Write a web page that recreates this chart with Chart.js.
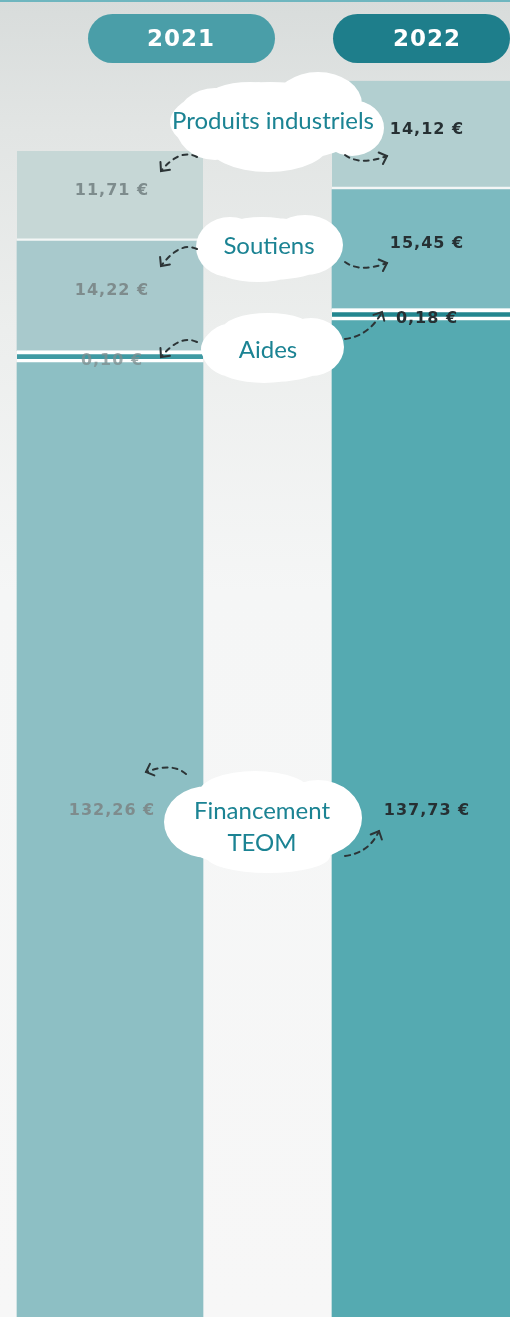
<!DOCTYPE html>
<html lang="fr">
<head>
<meta charset="utf-8">
<title>Financement 2021 / 2022</title>
<script src="https://cdn.jsdelivr.net/npm/chart.js@4/dist/chart.umd.min.js"></script>
<style>
  html, body { margin: 0; padding: 0; background: #f6f7f7; overflow: hidden; }
  #wrap { position: relative; width: 510px; height: 1317px; }
  canvas { display: block; }
</style>
</head>
<body>
<div id="wrap"><canvas id="chart" width="510" height="1317"></canvas></div>
<script>
// Years shown as columns
const years = ['2021', '2022'];
// Amounts in euros, one value per year, stacked from the bottom up
const teom = [132.26, 137.73];
const aides = [0.10, 0.18];
const soutiens = [14.22, 15.45];
const produits = [11.71, 14.12];
// Names written in the bubbles
const seriesNames = ['Financement TEOM', 'Aides', 'Soutiens', 'Produits industriels'];

const fmt = v => v.toFixed(2).replace('.', ',') + ' €';
const toPoints = arr => arr.map((v, i) => ({ x: i, y: v }));

const TEAL_TEXT = '#1b8393';

// Light paper tone behind everything
const paper = {
  id: 'paper',
  beforeDraw(chart) {
    const { ctx, width, height } = chart;
    const g = ctx.createLinearGradient(0, 0, 0, height);
    g.addColorStop(0, '#d8dcdb');
    g.addColorStop(0.1, '#e2e5e4');
    g.addColorStop(0.25, '#eceeed');
    g.addColorStop(0.45, '#f5f6f6');
    g.addColorStop(1, '#f7f7f7');
    ctx.save();
    ctx.fillStyle = g;
    ctx.fillRect(0, 0, width, height);
    ctx.fillStyle = '#6fb6bf';
    ctx.fillRect(0, 0, width, 2);
    ctx.restore();
  }
};

// Bubble shapes: union of ellipses [cx, cy, rx, ry]
const bubbles = [
  { text: [seriesNames[3]], tx: 273, ty: 121, shapes: [
      [270, 122, 100, 40], [215, 124, 40, 36], [318, 104, 44, 32], [352, 128, 32, 28],
      [268, 142, 62, 30], [250, 100, 45, 18] ] },
  { text: [seriesNames[2]], tx: 269, ty: 246, shapes: [
      [269, 249, 72, 31], [230, 247, 34, 30], [305, 245, 38, 30], [262, 235, 45, 18],
      [258, 266, 45, 16] ] },
  { text: [seriesNames[1]], tx: 268, ty: 350, shapes: [
      [272, 349, 71, 33], [234, 350, 32, 27], [311, 347, 33, 29], [268, 330, 46, 17],
      [264, 368, 46, 15] ] },
  { text: ['Financement', 'TEOM'], tx: 262, ty: 811, lh: 32, shapes: [
      [263, 823, 97, 45], [208, 822, 44, 36], [318, 818, 44, 38], [255, 793, 56, 22],
      [268, 856, 62, 17] ] }
];

// Dashed pointers from each bubble towards its segments: [start, control, tip]
const pointers = [
  [[197, 157], [180, 148], [161, 171]],
  [[197, 249], [180, 241], [161, 266]],
  [[197, 342], [180, 334], [161, 357]],
  [[186, 774], [172, 762], [146, 772]],
  [[345, 155], [360, 166], [387, 156]],
  [[345, 262], [360, 273], [387, 263]],
  [[345, 339], [369, 336], [382, 312]],
  [[345, 856], [369, 853], [379, 831]]
];

// Header pills above each column
const pills = [
  { x: 88, w: 187, tx: 181, color: '#4a9ea8' },
  { x: 333, w: 177, tx: 427, color: '#1e7e8b' }
];

function roundRect(ctx, x, y, w, h, r) {
  ctx.beginPath();
  ctx.moveTo(x + r, y);
  ctx.lineTo(x + w - r, y);
  ctx.arc(x + w - r, y + r, r, -Math.PI / 2, Math.PI / 2);
  ctx.lineTo(x + r, y + h);
  ctx.arc(x + r, y + r, r, Math.PI / 2, Math.PI * 1.5);
  ctx.closePath();
}

function drawPointer(ctx, p) {
  const [s, c, t] = p;
  ctx.save();
  ctx.strokeStyle = '#2c3436';
  ctx.lineWidth = 2;
  ctx.lineCap = 'round';
  ctx.setLineDash([5, 5]);
  ctx.beginPath();
  ctx.moveTo(s[0], s[1]);
  ctx.quadraticCurveTo(c[0], c[1], t[0], t[1]);
  ctx.stroke();
  ctx.setLineDash([]);
  const ang = Math.atan2(t[1] - c[1], t[0] - c[0]);
  const len = 9;
  ctx.beginPath();
  ctx.moveTo(t[0] - len * Math.cos(ang - 0.75), t[1] - len * Math.sin(ang - 0.75));
  ctx.lineTo(t[0], t[1]);
  ctx.lineTo(t[0] - len * Math.cos(ang + 0.75), t[1] - len * Math.sin(ang + 0.75));
  ctx.stroke();
  ctx.restore();
}

const annotations = {
  id: 'annotations',
  afterDatasetsDraw(chart) {
    const { ctx } = chart;
    ctx.save();

    // bubbles
    ctx.fillStyle = '#ffffff';
    bubbles.forEach(b => {
      ctx.beginPath();
      b.shapes.forEach(([x, y, rx, ry]) => {
        ctx.moveTo(x + rx, y);
        ctx.ellipse(x, y, rx, ry, 0, 0, Math.PI * 2);
      });
      ctx.fill('nonzero');
    });

    // bubble titles
    ctx.fillStyle = TEAL_TEXT;
    ctx.textAlign = 'center';
    ctx.textBaseline = 'middle';
    ctx.font = '24px Lato';
    bubbles.forEach(b => {
      b.text.forEach((line, k) => ctx.fillText(line, b.tx, b.ty + k * (b.lh || 0)));
    });

    // value labels
    ctx.font = 'bold 16px "DejaVu Sans"';
    ctx.letterSpacing = '1px';
    const labelColors = ['#7e8c8d', '#263033'];
    const series = [teom, aides, soutiens, produits];
    series.forEach((values, d) => {
      const meta = chart.getDatasetMeta(d);
      values.forEach((v, i) => {
        const el = meta.data[i];
        let y;
        if (d === 0) y = 811;
        else if (d === 1) y = el.base + (i === 0 ? -2 : -2);
        else y = (el.y + el.base) / 2 - 5;
        ctx.fillStyle = labelColors[i];
        ctx.globalAlpha = (d === 1 && i === 0) ? 0.75 : 1;
        ctx.fillText(fmt(v), el.x + 2, y);
      });
    });
    ctx.globalAlpha = 1;
    ctx.letterSpacing = '0px';

    pointers.forEach(p => drawPointer(ctx, p));

    // year headers
    pills.forEach((p, i) => {
      ctx.fillStyle = p.color;
      roundRect(ctx, p.x, 14, p.w, 49, 24.5);
      ctx.fill();
      ctx.fillStyle = '#ffffff';
      ctx.font = 'bold 23px "DejaVu Sans"';
      ctx.letterSpacing = '1px';
      ctx.fillText(years[i], p.tx, 40);
      ctx.letterSpacing = '0px';
    });

    ctx.restore();
  }
};

new Chart(document.getElementById('chart'), {
  type: 'bar',
  data: {
    datasets: [
      { label: seriesNames[0], data: toPoints(teom),
        backgroundColor: ['#8dbfc4', '#55aab1'], borderWidth: 0 },
      { label: seriesNames[1], data: toPoints(aides),
        backgroundColor: ['#3f9aa3', '#23868f'], borderColor: '#ffffff',
        borderWidth: { top: 4, bottom: 4, left: 0, right: 0 }, borderSkipped: false, minBarLength: 12 },
      { label: seriesNames[2], data: toPoints(soutiens),
        backgroundColor: ['#a8c9cc', '#7cbac0'], borderWidth: 0 },
      { label: seriesNames[3], data: toPoints(produits),
        backgroundColor: ['#c6d7d6', '#b2cfd0'], borderColor: '#f3f6f6',
        borderWidth: { top: 0, bottom: 3, left: 0, right: 0 }, borderSkipped: false }
    ]
  },
  options: {
    responsive: false,
    animation: false,
    devicePixelRatio: 1,
    layout: { padding: 0 },
    datasets: { bar: { barThickness: 186 } },
    scales: {
      x: { type: 'linear', stacked: true, display: false, offset: false,
           min: -110 / 315, max: 400 / 315 },
      y: { stacked: true, display: false, min: 8.31, max: 179.35 }
    },
    plugins: { legend: { display: false }, tooltip: { enabled: false } }
  },
  plugins: [paper, annotations]
});
</script>
</body>
</html>
